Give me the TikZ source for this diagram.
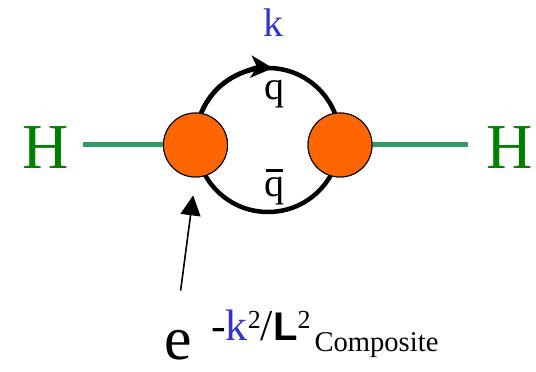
\documentclass[tikz,border=0pt]{standalone}
\usepackage{fontspec}
\setmainfont{Liberation Serif}
\setsansfont{Liberation Sans}
\usepackage{tikz}
\usetikzlibrary{arrows.meta}
\usepackage{xcolor}
\definecolor{blobfill}{RGB}{255,102,0}
\definecolor{higgsline}{RGB}{51,153,102}
\definecolor{higgstext}{RGB}{0,128,0}
\definecolor{kblue}{RGB}{51,51,204}

\begin{document}
\begin{tikzpicture}[x=1pt,y=1pt,line cap=round,
  blob/.style={circle,draw=black,line width=1pt,fill=blobfill,minimum size=64pt,inner sep=0pt},
  hlabel/.style={text=higgstext,font=\fontsize{64}{64}\selectfont,anchor=base,inner sep=0pt},
  qlabel/.style={font=\fontsize{40}{40}\selectfont,anchor=base,inner sep=0pt}]
\useasboundingbox (0,0) rectangle (536,372);
% Higgs legs
\node[hlabel] (hL) at (46,203) {H};
\node[hlabel] (hR) at (510,203) {H};
\coordinate (gL) at (83,227);
\coordinate (gR) at (468,227);
\coordinate (loopc) at (268,232);
\node[blob] (blobL) at (195.5,227) {};
\node[blob] (blobR) at (340,227) {};
\draw[higgsline,line width=5pt,line cap=butt] (gL) -- (blobL.center);
\draw[higgsline,line width=5pt,line cap=butt] (blobR.center) -- (gR);
% quark loop, clockwise so the arrow on top points right
\draw[line width=4.5pt] ([xshift=-72pt]loopc) arc[start angle=180,end angle=-180,radius=72pt];
\draw[line width=4.5pt,-{Stealth[length=22pt,width=22pt,inset=6pt]}]
  ([xshift=-72pt]loopc) arc[start angle=180,end angle=86,radius=72pt];
\node[blob] at (blobL) {};
\node[blob] at (blobR) {};
% labels
\node[qlabel,text=kblue] (kTop) at (273,335) {k};
\node[qlabel] (qUp) at (274,272) {q};
\node[qlabel] (qDown) at (274,175) {\makebox[0pt][l]{\hspace{2pt}\raisebox{25pt}{\rule{17pt}{3pt}}}q};
% form factor
\coordinate (tail) at (180.7,82);
\draw[line width=1.6pt,-{Triangle[length=20pt,width=20pt]},shorten >=18pt] (tail) -- (blobL.south);
\node[anchor=base west,inner sep=0pt,font=\fontsize{62}{62}\selectfont] (eBase) at (164,12) {e};
\node[anchor=base west,inner sep=0pt,font=\fontsize{44}{44}\selectfont] (expo) at (211,31)
  {-\textcolor{kblue}{k}\raisebox{12pt}{\fontsize{26}{26}\selectfont 2}/{\fontsize{40}{40}\selectfont\sffamily\bfseries L}\raisebox{12pt}{\fontsize{26}{26}\selectfont 2}\hspace{4pt}\raisebox{-11pt}{\fontsize{28.6}{28.6}\selectfont Composite}};
\end{tikzpicture}
\end{document}
